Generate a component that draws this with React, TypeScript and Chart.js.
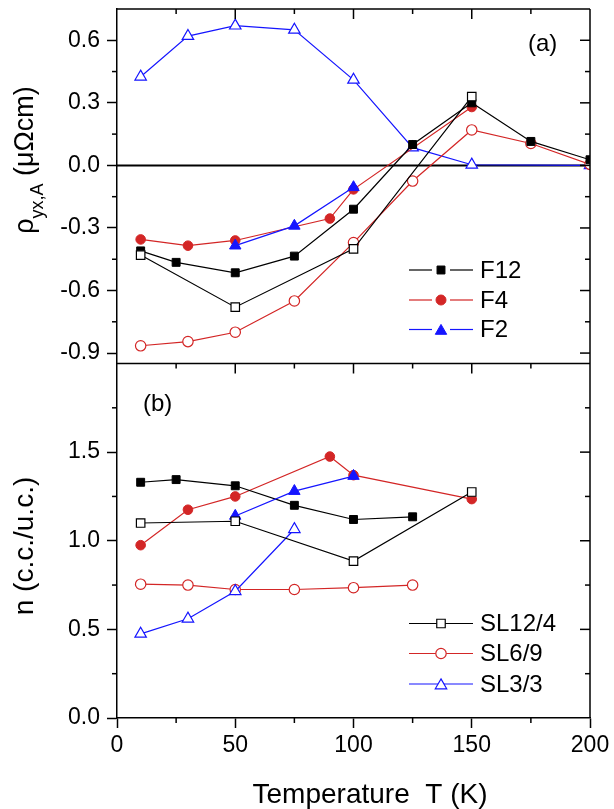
import React, { useEffect, useRef } from 'react';
import { Chart, registerables } from 'chart.js';

Chart.register(...registerables);

const FONT = '"Liberation Sans", Arial, Helvetica, sans-serif';
const BLACK = '#000000';
const RED = '#d32626';
const BLUE = '#1515ff';

// ---------- Panel (a): rho_yx,A (μΩcm) vs T ----------
const A_F12_T = [10, 25, 50, 75, 100, 125, 150, 175, 200];
const A_F12 = [-0.41, -0.465, -0.515, -0.435, -0.21, 0.1, 0.3, 0.115, 0.027];
const A_SL12_T = [10, 50, 100, 150];
const A_SL12 = [-0.43, -0.68, -0.4, 0.33];
const A_F4_T = [10, 30, 50, 90, 100, 150];
const A_F4 = [-0.355, -0.385, -0.36, -0.255, -0.115, 0.28];
const A_SL6_T = [10, 30, 50, 75, 100, 125, 150, 175, 200];
const A_SL6 = [-0.865, -0.845, -0.8, -0.65, -0.37, -0.075, 0.17, 0.105, 0.005];
const A_F2_T = [50, 75, 100];
const A_F2 = [-0.385, -0.29, -0.105];
const A_SL3_T = [10, 30, 50, 75, 100, 125, 150, 200];
const A_SL3 = [0.425, 0.62, 0.67, 0.65, 0.41, 0.085, 0.003, 0.0];

// ---------- Panel (b): n (c.c./u.c.) vs T ----------
const B_F12_T = [10, 25, 50, 75, 100, 125];
const B_F12 = [1.33, 1.345, 1.31, 1.2, 1.12, 1.135];
const B_SL12_T = [10, 50, 100, 150];
const B_SL12 = [1.1, 1.11, 0.885, 1.275];
const B_F4_T = [10, 30, 50, 90, 100, 150];
const B_F4 = [0.975, 1.175, 1.25, 1.475, 1.37, 1.235];
const B_SL6_T = [10, 30, 50, 75, 100, 125];
const B_SL6 = [0.755, 0.75, 0.725, 0.725, 0.735, 0.75];
const B_F2_T = [50, 75, 100];
const B_F2 = [1.14, 1.28, 1.365];
const B_SL3_T = [10, 30, 50, 75];
const B_SL3 = [0.475, 0.56, 0.715, 1.065];

// axis ranges and tick values (major ticks carry labels)
const X_MIN = 0, X_MAX = 200;
const X_TICKS = [0, 25, 50, 75, 100, 125, 150, 175, 200];
const X_MAJOR = [0, 50, 100, 150, 200];
const YA_MIN = -0.95, YA_MAX = 0.75;
const YA_TICKS = [-0.9, -0.75, -0.6, -0.45, -0.3, -0.15, 0, 0.15, 0.3, 0.45, 0.6];
const YA_MAJOR = [-0.9, -0.6, -0.3, 0, 0.3, 0.6];
const YB_MIN = 0, YB_MAX = 2.0;
const YB_TICKS = [0, 0.25, 0.5, 0.75, 1.0, 1.25, 1.5, 1.75];
const YB_MAJOR = [0, 0.5, 1.0, 1.5];

const LEGEND_A = ['F12', 'F4', 'F2'];
const LEGEND_B = ['SL12/4', 'SL6/9', 'SL3/3'];

const inList = (v: number, list: number[]) => list.some((m) => Math.abs(m - v) < 1e-9);

function radiusFor(style: string, filled: boolean) {
  if (style === 'rect') return filled ? 5.6 : 6;
  if (style === 'circle') return filled ? 4.8 : 5.2;
  return 6.6;
}

function ds(label: string, T: number[], V: number[], axis: string, color: string, style: string, filled: boolean) {
  return {
    label,
    data: T.map((t, i) => ({ x: t, y: V[i] })),
    yAxisID: axis,
    xAxisID: 'x',
    borderColor: color,
    backgroundColor: color,
    borderWidth: 1.2,
    pointStyle: style,
    pointRadius: radiusFor(style, filled),
    pointBackgroundColor: filled ? color : '#ffffff',
    pointBorderColor: color,
    pointBorderWidth: filled ? 1 : 1.2,
    tension: 0,
    fill: false,
  };
}

function drawMarker(ctx: CanvasRenderingContext2D, style: string, x: number, y: number, r: number, color: string, filled: boolean) {
  ctx.beginPath();
  if (style === 'rect') {
    const s = Math.SQRT1_2 * r;
    ctx.rect(x - s, y - s, 2 * s, 2 * s);
  } else if (style === 'circle') {
    ctx.arc(x, y, r, 0, Math.PI * 2);
  } else {
    let a = 0;
    ctx.moveTo(x + Math.sin(a) * r, y - Math.cos(a) * r);
    a += (2 * Math.PI) / 3;
    ctx.lineTo(x + Math.sin(a) * r, y - Math.cos(a) * r);
    a += (2 * Math.PI) / 3;
    ctx.lineTo(x + Math.sin(a) * r, y - Math.cos(a) * r);
    ctx.closePath();
  }
  ctx.fillStyle = filled ? color : '#ffffff';
  ctx.fill();
  ctx.strokeStyle = color;
  ctx.lineWidth = filled ? 1 : 1.2;
  ctx.stroke();
}

const decoPlugin = {
  id: 'deco',
  beforeDatasetsDraw(chart: any) {
    const ctx = chart.ctx as CanvasRenderingContext2D;
    const { left, right } = chart.chartArea;
    const yA = chart.scales.yA;
    const y0 = yA.getPixelForValue(0);
    ctx.save();
    ctx.strokeStyle = '#000';
    ctx.lineWidth = 2;
    ctx.beginPath();
    ctx.moveTo(left, y0);
    ctx.lineTo(right, y0);
    ctx.stroke();
    ctx.restore();
  },
  afterDraw(chart: any) {
    const ctx = chart.ctx as CanvasRenderingContext2D;
    const { left, right } = chart.chartArea;
    const x = chart.scales.x;
    const yA = chart.scales.yA;
    const yB = chart.scales.yB;
    const line = (x1: number, y1: number, x2: number, y2: number) => {
      ctx.beginPath();
      ctx.moveTo(x1, y1);
      ctx.lineTo(x2, y2);
      ctx.stroke();
    };
    ctx.save();
    ctx.strokeStyle = '#000';
    ctx.lineWidth = 1.5;
    // frame
    line(right, yA.top, right, yB.bottom);
    line(left, yA.top, right, yA.top);
    line(left, yB.top, right, yB.top);

    // x ticks: minor outward at bottom, inward at the top of each panel
    X_TICKS.forEach((v) => {
      const px = x.getPixelForValue(v);
      const major = inList(v, X_MAJOR);
      if (!major) line(px, yB.bottom, px, yB.bottom + 5);
      if (v > X_MIN && v < X_MAX) {
        line(px, yA.top, px, yA.top + (major ? 10 : 5));
        line(px, yB.top, px, yB.top + (major ? 10 : 5));
      }
    });
    // y ticks: minor outward on left, inward on right
    const yTicks = (s: any, vals: number[], majors: number[]) => {
      vals.forEach((v) => {
        if (Math.abs(v - s.min) < 1e-9 || Math.abs(v - s.max) < 1e-9) return;
        const py = s.getPixelForValue(v);
        const major = inList(v, majors);
        if (!major) line(left, py, left - 5, py);
        line(right, py, right - (major ? 10 : 5), py);
      });
    };
    yTicks(yA, YA_TICKS, YA_MAJOR);
    yTicks(yB, YB_TICKS, YB_MAJOR);

    // panel labels
    ctx.fillStyle = '#000';
    ctx.font = `24px ${FONT}`;
    ctx.textBaseline = 'middle';
    ctx.textAlign = 'left';
    ctx.fillText('(a)', 528, 44);
    ctx.fillText('(b)', 143, 404);

    // legends
    const styles = ['rect', 'circle', 'triangle'];
    const colors = [BLACK, RED, BLUE];
    const rowsA = [270, 300, 329.5];
    const rowsB = [623.5, 653.5, 684];
    const lx1 = 409, lx2 = 473, mx = 441, tx = 480;
    LEGEND_A.forEach((lab, i) => {
      const yy = rowsA[i];
      ctx.strokeStyle = colors[i];
      ctx.lineWidth = 1.2;
      line(lx1, yy, mx - 9, yy);
      line(mx + 9, yy, lx2, yy);
      const r = styles[i] === 'rect' ? 5.6 : styles[i] === 'circle' ? 5 : 6.6;
      drawMarker(ctx, styles[i], mx, styles[i] === 'triangle' ? yy + 1.5 : yy, r, colors[i], true);
      ctx.fillStyle = '#000';
      ctx.font = `24px ${FONT}`;
      ctx.textBaseline = 'middle';
      ctx.textAlign = 'left';
      ctx.fillText(lab, tx, yy + 1);
    });
    LEGEND_B.forEach((lab, i) => {
      const yy = rowsB[i];
      ctx.strokeStyle = colors[i];
      ctx.lineWidth = 1.2;
      line(lx1, yy, lx2, yy);
      const r = styles[i] === 'rect' ? 6 : styles[i] === 'circle' ? 5.2 : 6.6;
      drawMarker(ctx, styles[i], mx, styles[i] === 'triangle' ? yy + 1.5 : yy, r, colors[i], false);
      ctx.fillStyle = '#000';
      ctx.font = `24px ${FONT}`;
      ctx.textBaseline = 'middle';
      ctx.textAlign = 'left';
      ctx.fillText(lab, tx, yy + 1);
    });

    // axis titles
    ctx.fillStyle = '#000';
    ctx.textBaseline = 'alphabetic';
    ctx.font = `28px ${FONT}`;
    ctx.textAlign = 'center';
    ctx.fillText('Temperature  T (K)', 370, 803);

    // y title (a) with subscript
    ctx.save();
    ctx.translate(33, 160);
    ctx.rotate(-Math.PI / 2);
    ctx.textAlign = 'left';
    const mainF = `27px ${FONT}`;
    const subF = `18px ${FONT}`;
    ctx.font = mainF;
    const w1 = ctx.measureText('ρ').width;
    const w3 = ctx.measureText(' (μΩcm)').width;
    ctx.font = subF;
    const w2 = ctx.measureText('yx,A').width;
    let sx = -(w1 + w2 + w3) / 2;
    ctx.font = mainF;
    ctx.fillText('ρ', sx, 0);
    sx += w1;
    ctx.font = subF;
    ctx.fillText('yx,A', sx, 10);
    sx += w2;
    ctx.font = mainF;
    ctx.fillText(' (μΩcm)', sx, 0);
    ctx.restore();

    // y title (b)
    ctx.save();
    ctx.translate(33, 546);
    ctx.rotate(-Math.PI / 2);
    ctx.textAlign = 'center';
    ctx.font = `28px ${FONT}`;
    ctx.fillText('n (c.c./u.c.)', 0, 0);
    ctx.restore();

    ctx.restore();
  },
};

function yScale(min: number, max: number, vals: number[], majors: number[]) {
  return {
    type: 'linear',
    position: 'left',
    stack: 'panels',
    stackWeight: 1,
    min,
    max,
    afterBuildTicks: (s: any) => {
      s.ticks = vals.map((v) => ({ value: v }));
    },
    afterFit: (s: any) => {
      s.width = 117;
      s.paddingTop = 0;
      s.paddingBottom = 0;
    },
    border: { display: true, color: '#000', width: 1.5 },
    grid: {
      display: true,
      drawOnChartArea: false,
      drawTicks: true,
      tickLength: 10,
      tickWidth: 1.5,
      tickColor: (c: any) => (c.tick && inList(c.tick.value, majors) ? '#000' : 'rgba(0,0,0,0)'),
    },
    ticks: {
      autoSkip: false,
      padding: 7,
      color: '#000',
      font: { family: FONT, size: 23 },
      callback: (v: any) => {
        const n = Number(v);
        if (!inList(n, majors)) return '';
        return (Math.abs(n) < 1e-9 ? 0 : n).toFixed(1);
      },
    },
  };
}

export default function App() {
  const ref = useRef<HTMLCanvasElement | null>(null);

  useEffect(() => {
    if (!ref.current) return;
    const datasets = [
      ds('SL12/4 (a)', A_SL12_T, A_SL12, 'yA', BLACK, 'rect', false),
      ds('F12 (a)', A_F12_T, A_F12, 'yA', BLACK, 'rect', true),
      ds('F2 (a)', A_F2_T, A_F2, 'yA', BLUE, 'triangle', true),
      ds('F4 (a)', A_F4_T, A_F4, 'yA', RED, 'circle', true),
      ds('SL6/9 (a)', A_SL6_T, A_SL6, 'yA', RED, 'circle', false),
      ds('SL3/3 (a)', A_SL3_T, A_SL3, 'yA', BLUE, 'triangle', false),
      ds('SL12/4', B_SL12_T, B_SL12, 'yB', BLACK, 'rect', false),
      ds('F2', B_F2_T, B_F2, 'yB', BLUE, 'triangle', true),
      ds('F12', B_F12_T, B_F12, 'yB', BLACK, 'rect', true),
      ds('F4', B_F4_T, B_F4, 'yB', RED, 'circle', true),
      ds('SL3/3', B_SL3_T, B_SL3, 'yB', BLUE, 'triangle', false),
      ds('SL6/9', B_SL6_T, B_SL6, 'yB', RED, 'circle', false),
    ];
    const chart = new Chart(ref.current, {
      type: 'line',
      data: { datasets } as any,
      options: {
        responsive: false,
        animation: false,
        devicePixelRatio: 1,
        layout: { padding: { top: 9, right: 24, left: 0, bottom: 0 } },
        plugins: { legend: { display: false }, tooltip: { enabled: false } },
        scales: {
          x: {
            type: 'linear',
            position: 'bottom',
            min: X_MIN,
            max: X_MAX,
            afterBuildTicks: (s: any) => {
              s.ticks = X_TICKS.map((v) => ({ value: v }));
            },
            afterFit: (s: any) => {
              s.height = 91;
              s.paddingLeft = 0;
              s.paddingRight = 0;
            },
            border: { display: true, color: '#000', width: 1.5 },
            grid: {
              display: true,
              drawOnChartArea: false,
              drawTicks: true,
              tickLength: 10,
              tickWidth: 1.5,
              tickColor: (c: any) => (c.tick && inList(c.tick.value, X_MAJOR) ? '#000' : 'rgba(0,0,0,0)'),
            },
            ticks: {
              autoSkip: false,
              maxRotation: 0,
              padding: 4,
              color: '#000',
              font: { family: FONT, size: 23 },
              callback: (v: any) => (inList(Number(v), X_MAJOR) ? String(v) : ''),
            },
          },
          yB: yScale(YB_MIN, YB_MAX, YB_TICKS, YB_MAJOR),
          yA: yScale(YA_MIN, YA_MAX, YA_TICKS, YA_MAJOR),
        } as any,
      },
      plugins: [decoPlugin],
    });
    return () => chart.destroy();
  }, []);

  return (
    <canvas
      ref={ref}
      width={614}
      height={809}
      style={{ position: 'fixed', left: 0, top: 0, width: 614, height: 809, display: 'block', background: '#fff' }}
    />
  );
}
